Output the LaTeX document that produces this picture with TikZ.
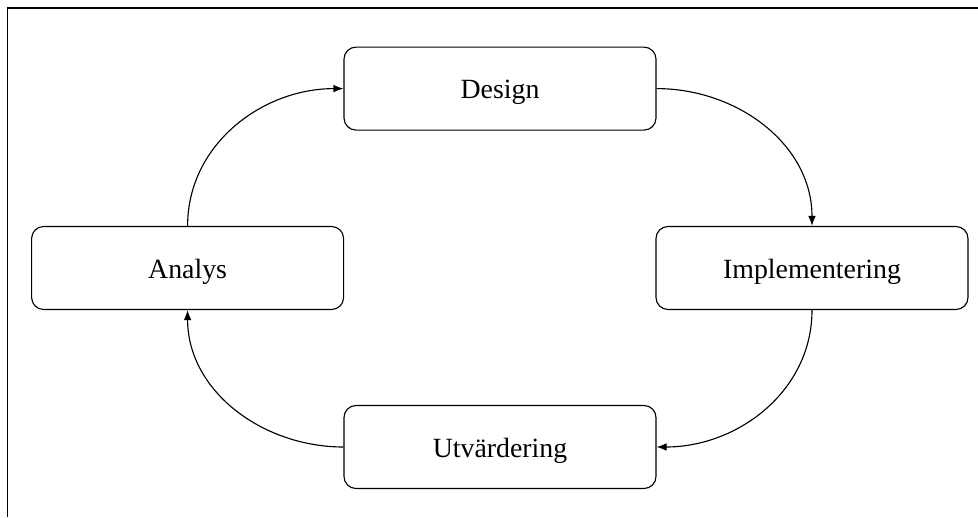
\documentclass[tikz,border=0pt]{standalone}
\usepackage{fontspec}
\setmainfont{Liberation Serif}
\usetikzlibrary{arrows.meta}

\begin{document}
\begin{tikzpicture}[
    fas/.style={draw, rounded corners=0.3cm, line width=0.8pt, minimum width=7.8cm, minimum height=2.075cm, text height=0.52cm, text depth=0cm, font=\fontsize{19.8}{24}\selectfont},
    pil/.style={line width=0.8pt, -{Latex[length=0.25cm, width=0.19cm]}}
  ]
      \useasboundingbox (0,0) rectangle (24.45,12.925);
      \draw[line width=1pt] (0.19,0) -- (0.19,12.725) -- (24.45,12.725);
      \node[fas] (design) at (12.5, 10.71) {Design};
      \node[fas] (impl) at (20.3, 6.225) {Implementering};
      \node[fas] (utv) at (12.5, 1.75) {Utvärdering};
      \node[fas] (analys) at (4.69, 6.225) {Analys};
      \draw[pil] (analys.north) to[out=90, in=180] (design.west);
      \draw[pil] (design.east) to[out=0, in=90] (impl.north);
      \draw[pil] (impl.south) to[out=-90, in=0] (utv.east);
      \draw[pil] (utv.west) to[out=180, in=-90] (analys.south);
    \end{tikzpicture}
\end{document}
